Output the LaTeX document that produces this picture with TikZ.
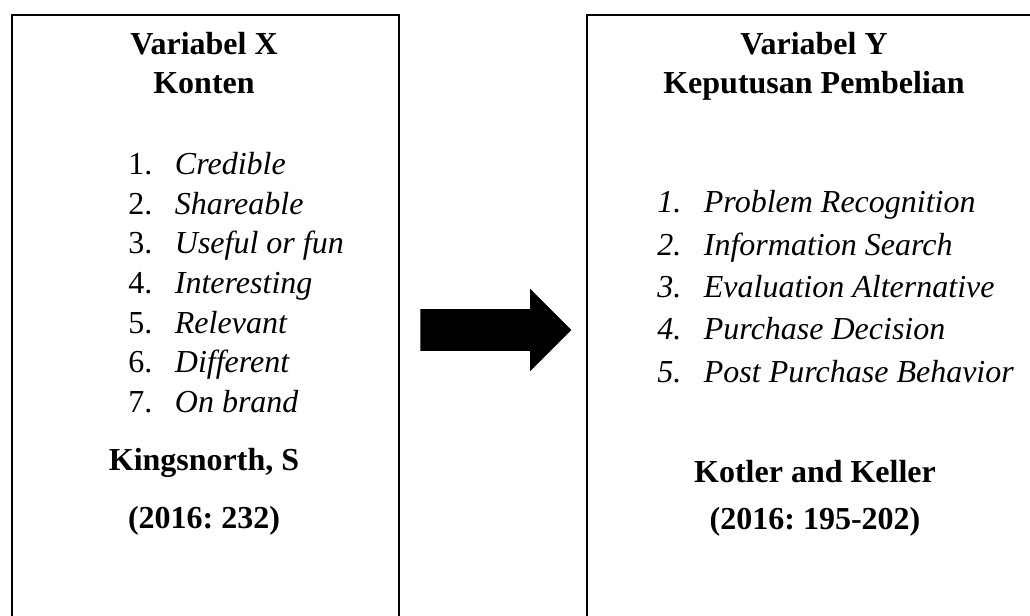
\documentclass[tikz,border=0pt]{standalone}
\usepackage{fontspec}
\setmainfont{Liberation Serif}
\usepackage{tikz}
\usetikzlibrary{shapes,arrows,positioning}
\frenchspacing
\tikzstyle{contour} = [draw,line width=1.6pt,rectangle,inner sep=0,anchor=north west]
\tikzstyle{title} = [inner sep=0,anchor=base,font=\fontsize{24}{30}\selectfont\bfseries]
\tikzstyle{item} = [inner sep=0,anchor=base west,font=\fontsize{24}{29}\selectfont]
\tikzstyle{bigarrow} = [draw=none,fill=black,single arrow,single arrow head extend=15.4pt,inner xsep=0,inner ysep=15.375pt,minimum height=113.25pt,minimum width=61.5pt]
\def \nr {35pt}
\newcommand{\itm}[2]{\makebox[\nr][l]{#1}\textit{#2}}

\begin{document}
\begin{tikzpicture}[x=0.75pt,y=-0.75pt]
      \useasboundingbox (0,0) rectangle (1030,616);
      \clip (0,0) rectangle (1030,616);
      % boxes
      \node[contour,minimum width=290.25pt,minimum height=500pt] (xbox) at (11,14) {};
      \node[contour,minimum width=340pt,minimum height=500pt] (ybox) at (586,14) {};
      % variabel X
      \node[title] (xt1) at (204,55) {Variabel X};
      \node[title] (xt2) at (204,94) {Konten};
      \node[item] (x1) at (128,175) {\itm{1.}{Credible}};
      \node[item] (x2) at (128,214.5) {\itm{2.}{Shareable}};
      \node[item] (x3) at (128,254) {\itm{3.}{Useful or fun}};
      \node[item] (x4) at (128,293.5) {\itm{4.}{Interesting}};
      \node[item] (x5) at (128,333) {\itm{5.}{Relevant}};
      \node[item] (x6) at (128,372.5) {\itm{6.}{Different}};
      \node[item] (x7) at (128,412) {\itm{7.}{On brand}};
      \node[title] (xs1) at (204,470) {Kingsnorth, S};
      \node[title] (xs2) at (204,528) {(2016: 232)};
      % variabel Y
      \node[title] (yt1) at (814,55) {Variabel Y};
      \node[title] (yt2) at (814,94) {Keputusan Pembelian};
      \node[item] (y1) at (657,213) {\itm{\textit{1.}}{Problem Recognition}};
      \node[item] (y2) at (657,255.25) {\itm{\textit{2.}}{Information Search}};
      \node[item] (y3) at (657,297.5) {\itm{\textit{3.}}{Evaluation Alternative}};
      \node[item] (y4) at (657,339.75) {\itm{\textit{4.}}{Purchase Decision}};
      \node[item] (y5) at (657,382) {\itm{\textit{5.}}{Post Purchase Behavior}};
      \node[title] (ys1) at (815,482) {Kotler and Keller};
      \node[title] (ys2) at (815,529) {(2016: 195-202)};
      % arrow
      \node[bigarrow] (xy) at (485.5,330) {};
    \end{tikzpicture}
\end{document}
